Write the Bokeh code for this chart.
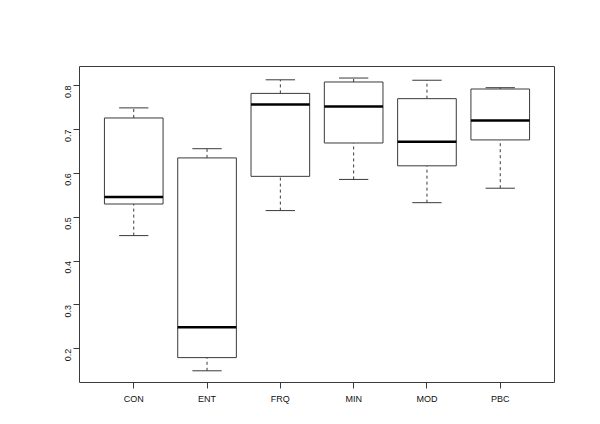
from bokeh.plotting import figure
from bokeh.models import ColumnDataSource, Range1d, FixedTicker
from bokeh.embed import file_html
from bokeh.resources import INLINE
import math

categories = ["CON", "ENT", "FRQ", "MIN", "MOD", "PBC"]
lower  = [0.458, 0.150, 0.515, 0.586, 0.533, 0.566]
q1     = [0.530, 0.180, 0.593, 0.669, 0.617, 0.676]
median = [0.546, 0.249, 0.757, 0.752, 0.672, 0.720]
q3     = [0.726, 0.635, 0.782, 0.808, 0.770, 0.792]
upper  = [0.749, 0.656, 0.813, 0.817, 0.812, 0.795]
y_ticks = [0.2, 0.3, 0.4, 0.5, 0.6, 0.7, 0.8]

pos = list(range(1, len(categories) + 1))
src = ColumnDataSource(dict(
    x=pos,
    left=[p - 0.4 for p in pos], right=[p + 0.4 for p in pos],
    cl=[p - 0.2 for p in pos], cr=[p + 0.2 for p in pos],
    lower=lower, q1=q1, median=median, q3=q3, upper=upper,
))

LINE = "#3a3a3a"
FONT = "Liberation Sans"

p = figure(width=600, height=424, output_backend="svg", toolbar_location=None,
           x_range=Range1d(0.26, 6.74), y_range=Range1d(0.1233, 0.8433),
           min_border_left=79, min_border_right=46, min_border_top=66, min_border_bottom=42)
p.background_fill_color = "white"
p.border_fill_color = "white"
p.outline_line_color = LINE
p.outline_line_width = 1
p.xgrid.visible = False
p.ygrid.visible = False

# whiskers (dashed)
p.segment(x0="x", y0="q3", x1="x", y1="upper", source=src, line_color=LINE, line_width=1, line_dash="3 3")
p.segment(x0="x", y0="lower", x1="x", y1="q1", source=src, line_color=LINE, line_width=1, line_dash="3 3")
# caps
p.segment(x0="cl", y0="upper", x1="cr", y1="upper", source=src, line_color=LINE, line_width=1)
p.segment(x0="cl", y0="lower", x1="cr", y1="lower", source=src, line_color=LINE, line_width=1)
# boxes
p.quad(left="left", right="right", bottom="q1", top="q3", source=src,
       fill_color="white", line_color=LINE, line_width=1)
# medians
p.segment(x0="left", y0="median", x1="right", y1="median", source=src, line_color="black", line_width=2.5)

xa = p.xaxis[0]
xa.ticker = FixedTicker(ticks=pos)
xa.major_label_overrides = {i: c for i, c in zip(pos, categories)}
ya = p.yaxis[0]
ya.ticker = FixedTicker(ticks=y_ticks)
ya.major_label_orientation = math.pi / 2

for ax in (xa, ya):
    ax.axis_line_color = None
    ax.minor_tick_line_color = None
    ax.major_tick_line_color = LINE
    ax.major_tick_in = 0
    ax.major_tick_out = 6
    ax.major_label_standoff = 5
    ax.major_label_text_font = FONT
    ax.major_label_text_font_size = "9px"
    ax.major_label_text_color = "#111111"

open("out.html", "w").write(file_html(p, INLINE))
